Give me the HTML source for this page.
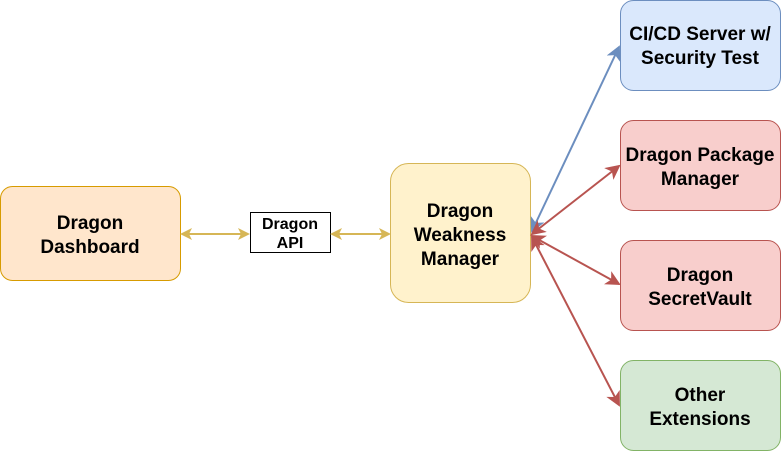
<!DOCTYPE html>
<html><head><style>
body{margin:0;width:781px;height:451px;background:#fff;overflow:hidden}
</style></head><body>
<svg width="781" height="451" xmlns="http://www.w3.org/2000/svg" font-family="Liberation Sans, sans-serif" font-weight="bold" font-size="19" text-anchor="middle">
<defs>
<marker id="y" markerWidth="12" markerHeight="12" refX="10" refY="6" orient="auto-start-reverse" markerUnits="userSpaceOnUse"><path d="M0,0 L12,6 L0,12 L3,6z" fill="#d6b656"/></marker>
<marker id="r" markerWidth="15" markerHeight="15" refX="13" refY="7.5" orient="auto-start-reverse" markerUnits="userSpaceOnUse"><path d="M0,0 L15,7.5 L0,15 L4,7.5z" fill="#b85450"/></marker>
<marker id="b" markerWidth="15" markerHeight="15" refX="13" refY="7.5" orient="auto-start-reverse" markerUnits="userSpaceOnUse"><path d="M0,0 L15,7.5 L0,15 L4,7.5z" fill="#6c8ebf"/></marker>
</defs>
<rect x="0.5" y="186.5" width="180" height="94" rx="12" fill="#ffe6cc" stroke="#d79b00"/>
<text x="90" y="229">Dragon</text><text x="90" y="253">Dashboard</text>
<rect x="250.5" y="212.5" width="80" height="40" fill="#fff" stroke="#000"/>
<text x="290" y="229" font-size="16">Dragon</text><text x="290" y="248" font-size="16">API</text>
<rect x="390.5" y="163.5" width="140" height="139" rx="18" fill="#fff2cc" stroke="#d6b656"/>
<text x="460" y="217">Dragon</text><text x="460" y="241">Weakness</text><text x="460" y="265">Manager</text>
<rect x="620.5" y="0.5" width="160" height="90" rx="13" fill="#dae8fc" stroke="#6c8ebf"/>
<text x="700" y="40">CI/CD Server w/</text><text x="700" y="64">Security Test</text>
<rect x="620.5" y="120.5" width="160" height="90" rx="13" fill="#f8cecc" stroke="#b85450"/>
<text x="700" y="161">Dragon Package</text><text x="700" y="185">Manager</text>
<rect x="620.5" y="240.5" width="160" height="90" rx="13" fill="#f8cecc" stroke="#b85450"/>
<text x="700" y="281">Dragon</text><text x="700" y="305">SecretVault</text>
<rect x="620.5" y="360.5" width="160" height="90" rx="13" fill="#d5e8d4" stroke="#82b366"/>
<text x="700" y="401">Other</text><text x="700" y="425">Extensions</text>
<g stroke-width="2" fill="none">
<line x1="182" y1="234" x2="248" y2="234" stroke="#d6b656" marker-start="url(#y)" marker-end="url(#y)"/>
<line x1="332" y1="234" x2="389" y2="234" stroke="#d6b656" marker-start="url(#y)" marker-end="url(#y)"/>
<line x1="532" y1="231" x2="619" y2="47" stroke="#6c8ebf" marker-start="url(#b)" marker-end="url(#b)"/>
<line x1="532" y1="234" x2="619" y2="166" stroke="#b85450" marker-start="url(#r)" marker-end="url(#r)"/>
<line x1="532" y1="236" x2="619" y2="284" stroke="#b85450" marker-start="url(#r)" marker-end="url(#r)"/>
<line x1="532" y1="237" x2="619" y2="405" stroke="#b85450" marker-start="url(#r)" marker-end="url(#r)"/>
</g>
</svg>
</body></html>
